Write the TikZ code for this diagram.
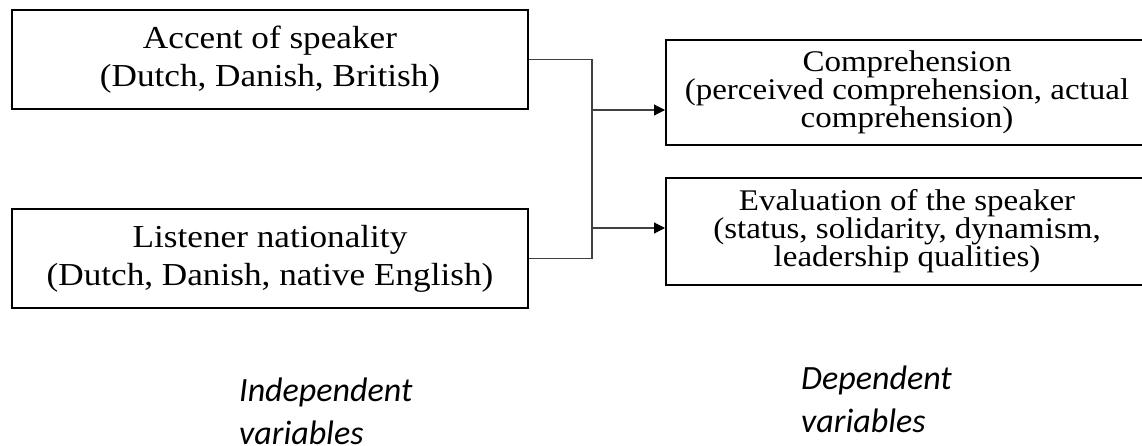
\documentclass[tikz,border=0pt]{standalone}
\usepackage{fontspec}
\setmainfont{Liberation Serif}[FakeStretch=1.1]
\newfontfamily\labelfont{Carlito}
\usetikzlibrary{arrows.meta}
\begin{document}
\begin{tikzpicture}[x=1pt,y=-1pt,
  varbox/.style={draw=black,line width=2pt,inner sep=0pt,align=center},
  leftbox/.style={varbox,minimum width=516pt,minimum height=99pt,font=\fontsize{32}{38}\selectfont},
  rightbox/.style={varbox,minimum width=482pt,font=\fontsize{30}{28}\selectfont},
  conn/.style={draw=black!75,line width=1.1pt},
  arr/.style={conn,-{Triangle[length=11pt,width=11pt,black]}},
  caption/.style={inner sep=0pt,align=left,font=\labelfont\itshape\fontsize{34}{43}\selectfont}]
\useasboundingbox (0,0) rectangle (1142,445);
\fill[white] (0,0) rectangle (1142,445);
\node[leftbox] (A) at (270,59.5) {Accent of speaker\\(Dutch, Danish, British)};
\node[leftbox] (B) at (270,258.5) {Listener nationality\\(Dutch, Danish, native English)};
\node[rightbox,minimum height=105pt] (C) at (907,92.5) {Comprehension\\(perceived comprehension, actual\\comprehension)};
\node[rightbox,minimum height=107pt] (E) at (907,231.5) {Evaluation of the speaker\\(status, solidarity, dynamism,\\leadership qualities)};
\coordinate (top) at (592,59.5);
\coordinate (bot) at (592,258.5);
\coordinate (j1) at (592,110);
\coordinate (j2) at (592,228);
\draw[conn] (A.east) -- (top) -- (bot) -- (B.east);
\draw[arr] (j1) -- (j1 -| C.west);
\draw[arr] (j2) -- (j2 -| E.west);
\node[caption,anchor=base west] (IV) at (239,444) {Independent\\variables};
\node[caption,anchor=base west] (DV) at (801,432) {Dependent\\variables};
\end{tikzpicture}
\end{document}
